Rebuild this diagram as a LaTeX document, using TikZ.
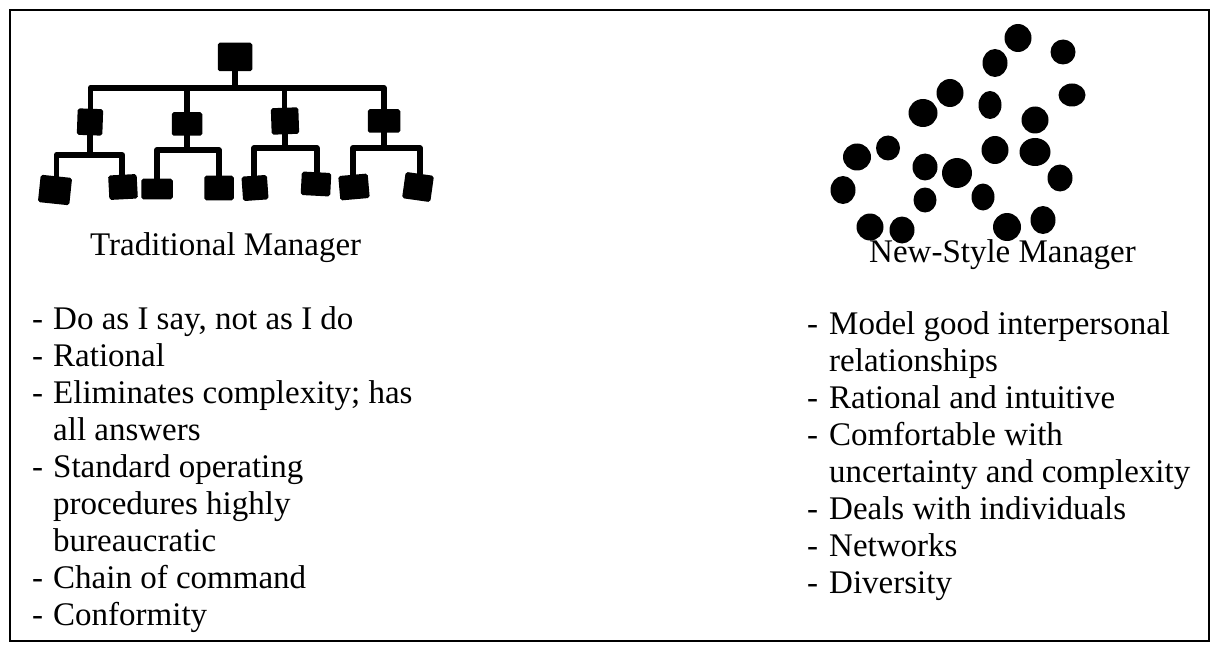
\documentclass[tikz,border=0pt]{standalone}
\usepackage{fontspec}
\setmainfont{Liberation Serif}
\usetikzlibrary{shapes.geometric}
\begin{document}
\begin{tikzpicture}[x=1pt,y=-1pt,
  box/.style={rectangle, fill=black, draw=black, line width=1.5pt, inner sep=0pt, rounded corners=1.5pt},
  stem/.style={line width=5.8pt, line join=round, line cap=round},
  dot/.style={ellipse, fill=black, inner sep=0pt},
  txt/.style={inner sep=0pt, font=\fontsize{33}{37}\selectfont, anchor=base west},
]
\useasboundingbox (0,0) rectangle (1214,647);
% frame
\draw[line width=1.8pt] (10,10) rectangle (1209,641);

% ---- hierarchy: root, middle managers, workers
\node[box, minimum width=33, minimum height=27] (root) at (235,57) {};
\node[box, minimum width=24, minimum height=25, rotate=-2] (m1) at (90,122) {};
\node[box, minimum width=29, minimum height=22] (m2) at (187,124) {};
\node[box, minimum width=26, minimum height=25, rotate=2] (m3) at (285,121) {};
\node[box, minimum width=31, minimum height=22] (m4) at (384,121) {};

\node[box, minimum width=30, minimum height=26, rotate=-6] (l1) at (55,190) {};
\node[box, minimum width=27, minimum height=23, rotate=3]  (l2) at (123,187) {};
\node[box, minimum width=30, minimum height=19]            (l3) at (157,189) {};
\node[box, minimum width=28, minimum height=23]            (l4) at (219,188) {};
\node[box, minimum width=24, minimum height=23, rotate=4]  (l5) at (255,188) {};
\node[box, minimum width=28, minimum height=22, rotate=-3] (l6) at (316,184) {};
\node[box, minimum width=28, minimum height=23, rotate=5]  (l7) at (354,187) {};
\node[box, minimum width=27, minimum height=25, rotate=-8] (l8) at (418,187) {};

\coordinate (hub) at (235,88);
\coordinate (s1) at (90,155);
\coordinate (s2) at (187,150);
\coordinate (s3) at (285,148);
\coordinate (s4) at (384,148);

\draw[stem] (root) -- (hub);
\draw[stem] (m1.north) |- (hub) -| (m4.north);
\draw[stem] (m2.north) -- (m2.north |- hub);
\draw[stem] (m3.north) -- (m3.north |- hub);

\draw[stem] (m1) -- (s1);
\draw[stem] (l1.north) |- (s1) -| (l2.north);
\draw[stem] (m2) -- (s2);
\draw[stem] (l3.north) |- (s2) -| (l4.north);
\draw[stem] (m3) -- (s3);
\draw[stem] (l5.north) |- (s3) -| (l6.north);
\draw[stem] (m4) -- (s4);
\draw[stem] (l7.north) |- (s4) -| (l8.north);

% ---- network of loose dots
\node[dot, minimum width=27, minimum height=28] (d1)  at (1018,38) {};
\node[dot, minimum width=25, minimum height=25] (d2)  at (1063,52) {};
\node[dot, minimum width=25, minimum height=28] (d3)  at (995,63) {};
\node[dot, minimum width=27, minimum height=23] (d4)  at (1072,95) {};
\node[dot, minimum width=27, minimum height=28] (d5)  at (950,93) {};
\node[dot, minimum width=23, minimum height=28] (d6)  at (990,105) {};
\node[dot, minimum width=29, minimum height=28] (d7)  at (923,113) {};
\node[dot, minimum width=27, minimum height=27] (d8)  at (1035,120) {};
\node[dot, minimum width=28, minimum height=27] (d9)  at (857,157) {};
\node[dot, minimum width=24, minimum height=25] (d10) at (888,148) {};
\node[dot, minimum width=27, minimum height=28] (d11) at (995,150) {};
\node[dot, minimum width=31, minimum height=28] (d12) at (1035,152) {};
\node[dot, minimum width=25, minimum height=27] (d13) at (925,167) {};
\node[dot, minimum width=30, minimum height=30] (d14) at (957,173) {};
\node[dot, minimum width=25, minimum height=27] (d15) at (1060,178) {};
\node[dot, minimum width=25, minimum height=28] (d16) at (843,190) {};
\node[dot, minimum width=23, minimum height=25] (d17) at (925,200) {};
\node[dot, minimum width=23, minimum height=27] (d18) at (983,197) {};
\node[dot, minimum width=27, minimum height=27] (d19) at (870,227) {};
\node[dot, minimum width=25, minimum height=27] (d20) at (902,230) {};
\node[dot, minimum width=28, minimum height=28] (d21) at (1007,227) {};
\node[dot, minimum width=25, minimum height=28] (d22) at (1043,220) {};

% ---- captions
\node[txt] (tradtitle) at (90,255) {Traditional Manager};
\node[txt] (newtitle) at (869,262) {New-Style Manager};

% ---- lists
\node[txt] (tradlist) at (32,329) {\begin{tabular}[t]{@{}p{21pt}@{}l@{}}
-& Do as I say, not as I do\\
-& Rational\\
-& Eliminates complexity; has\\
 & all answers\\
-& Standard operating\\
 & procedures highly\\
 & bureaucratic\\
-& Chain of command\\
-& Conformity
\end{tabular}};

\node[txt] (newlist) at (807,334) {\begin{tabular}[t]{@{}p{22pt}@{}l@{}}
-& Model good interpersonal\\
 & relationships\\
-& Rational and intuitive\\
-& Comfortable with\\
 & uncertainty and complexity\\
-& Deals with individuals\\
-& Networks\\
-& Diversity
\end{tabular}};
\end{tikzpicture}
\end{document}
